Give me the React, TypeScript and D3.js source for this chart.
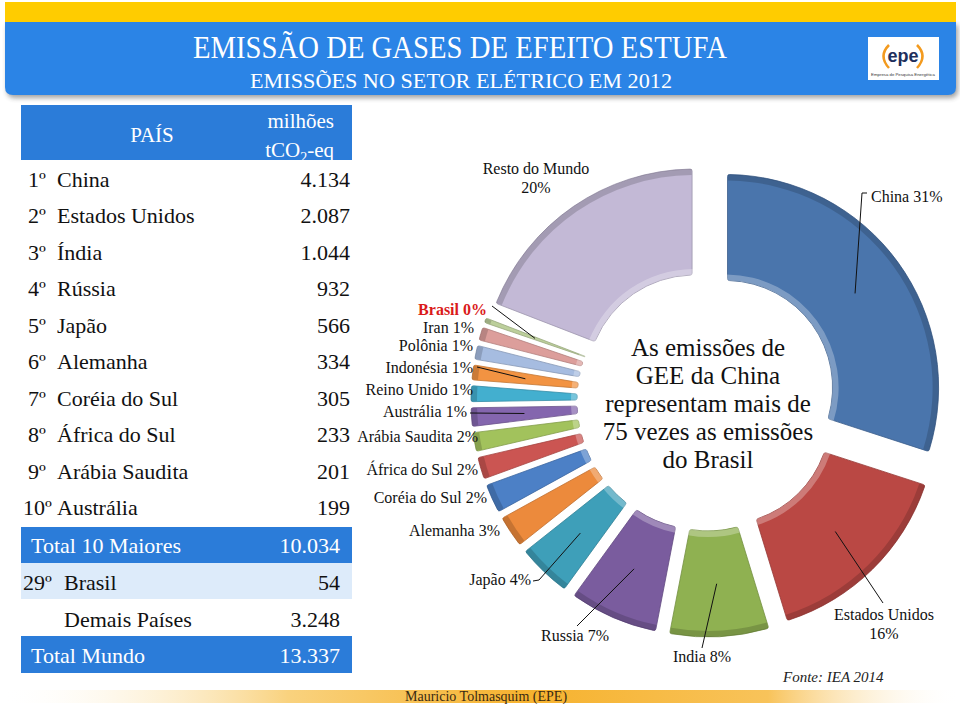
import React from "react";
import * as d3 from "d3";

// ---------- DATA ----------
const ranks = ["1º", "2º", "3º", "4º", "5º", "6º", "7º", "8º", "9º", "10º"];
const countries = ["China", "Estados Unidos", "Índia", "Rússia", "Japão", "Alemanha", "Coréia do Sul", "África do Sul", "Arábia Saudita", "Austrália"];
const emissions = [4134, 2087, 1044, 932, 566, 334, 305, 233, 201, 199];

const summaryRanks = ["", "29º", "", ""];
const summaryLabels = ["Total 10 Maiores", "Brasil", "Demais Países", "Total Mundo"];
const summaryValues = [10034, 54, 3248, 13337];

const sliceNames = ["China", "Estados Unidos", "India", "Russia", "Japão", "Alemanha", "Coréia do Sul", "África do Sul", "Arábia Saudita", "Austrália", "Reino Unido", "Indonésia", "Polônia", "Iran", "Brasil", "Resto do Mundo"];
const sliceValues = [4134, 2087, 1044, 932, 566, 334, 305, 233, 201, 199, 170, 160, 150, 140, 54, 2622];

const centerLines = ["As emissões de", "GEE da China", "representam mais de", "75 vezes as emissões", "do Brasil"];

// ---------- STYLE / LAYOUT ----------
const sliceColors = ["#4A75AC", "#BA4844", "#8FB151", "#7A5C9E", "#3E9FB9", "#EC8A3C", "#4C80C6", "#CB5552", "#A2C25C", "#8466AE", "#43AFCF", "#F29342", "#A6BCE0", "#DC9E9B", "#BCCF9B", "#C3B9D6"];

type LabelPos = { x: number; y: number; anchor: "start" | "middle" | "end"; two?: boolean; lead?: [number, number][]; bold?: boolean; color?: string };
const labelLayout: Record<string, LabelPos> = {
  "China": { x: 871, y: 202, anchor: "start", lead: [[867, 193], [862, 193]] },
  "Estados Unidos": { x: 884, y: 620, anchor: "middle", two: true, lead: [[883, 603]] },
  "India": { x: 702, y: 662, anchor: "middle", lead: [[702, 648]] },
  "Russia": { x: 575, y: 641, anchor: "middle", lead: [[577, 626]] },
  "Japão": { x: 531, y: 585, anchor: "end", lead: [[533, 581], [539, 580]] },
  "Alemanha": { x: 500, y: 536, anchor: "end" },
  "Coréia do Sul": { x: 487, y: 503, anchor: "end" },
  "África do Sul": { x: 478, y: 475, anchor: "end" },
  "Arábia Saudita": { x: 478, y: 442, anchor: "end" },
  "Austrália": { x: 467, y: 417, anchor: "end", lead: [[470, 413]] },
  "Reino Unido": { x: 473, y: 395, anchor: "end" },
  "Indonésia": { x: 473, y: 373, anchor: "end", lead: [[477, 367]] },
  "Polônia": { x: 473, y: 351, anchor: "end" },
  "Iran": { x: 474, y: 333, anchor: "end" },
  "Brasil": { x: 487, y: 315, anchor: "end", bold: true, color: "#DA1A1A", lead: [[492, 306]] },
  "Resto do Mundo": { x: 536, y: 174, anchor: "middle", two: true },
};

const SERIF = "'Liberation Serif', 'Times New Roman', serif";
const BLUE = "#2B7CD9";

const cx = 707, cy = 401, rIn = 107, rOut = 213, explode = 23;

const fmt = d3.formatLocale({ decimal: ",", thousands: ".", grouping: [3], currency: ["", ""] }).format(",d");

export default function App() {
  const total = d3.sum(sliceValues);
  const pie = d3.pie<number>().sort(null).value((d) => d).padAngle(0.016);
  const arcs = pie(sliceValues);
  const arcMain = d3.arc<d3.PieArcDatum<number>>().innerRadius(rIn).outerRadius(rOut).cornerRadius(2);
  const arcInnerRim = d3.arc<d3.PieArcDatum<number>>().innerRadius(rIn).outerRadius(rIn + 6);
  const arcOuterRim = d3.arc<d3.PieArcDatum<number>>().innerRadius(rOut - 6).outerRadius(rOut);
  const arcMid = d3.arc<d3.PieArcDatum<number>>().innerRadius(rIn).outerRadius(rOut);

  const rowY = d3.scalePoint<string>().domain(ranks).range([187, 515]);
  const sumY = [553, 590, 627, 663];
  const sumBand: ([number, number, string] | null)[] = [[527, 36, BLUE], [563, 36, "#DDEBFA"], null, [636, 37, BLUE]];

  const offset = (a: d3.PieArcDatum<number>) => {
    const m = (a.startAngle + a.endAngle) / 2;
    return [explode * Math.sin(m), -explode * Math.cos(m)];
  };

  const headerPath = "M5,22 H956 V87 Q956,95 948,95 H13 Q5,95 5,87 Z";

  return (
    <svg width={960} height={706} style={{ position: "absolute", left: 0, top: 0, background: "#fff" }} fontFamily={SERIF}>
      <defs>
        <filter id="shadow" x="-5%" y="-20%" width="110%" height="160%">
          <feGaussianBlur stdDeviation="2.5" />
        </filter>
        <linearGradient id="footer" x1="0" x2="1" y1="0" y2="0">
          <stop offset="0" stopColor="#FFFFFF" stopOpacity="0" />
          <stop offset="0.3" stopColor="#F9D27E" />
          <stop offset="0.55" stopColor="#F6B22E" />
          <stop offset="0.8" stopColor="#F8C35A" />
          <stop offset="1" stopColor="#FFFFFF" stopOpacity="0" />
        </linearGradient>
      </defs>

      {/* Header */}
      <path d={headerPath} transform="translate(2,3)" fill="#333" opacity={0.45} filter="url(#shadow)" />
      <rect x={5} y={2} width={951} height={21} fill="#FFCC00" />
      <path d={headerPath} fill="#2B84E6" />
      <text x={460} y={58} textAnchor="middle" fill="#fff" fontSize={31} textLength={534} lengthAdjust="spacingAndGlyphs">EMISSÃO DE GASES DE EFEITO ESTUFA</text>
      <text x={461} y={88} textAnchor="middle" fill="#fff" fontSize={21} textLength={422} lengthAdjust="spacingAndGlyphs">EMISSÕES NO SETOR ELÉTRICO EM 2012</text>

      {/* Logo */}
      <rect x={868} y={37} width={71} height={43} fill="#fff" />
      <path d="M889,45 Q878,56 889,68" fill="none" stroke="#F39A1E" strokeWidth={2.5} />
      <path d="M917,45 Q928,56 917,68" fill="none" stroke="#F39A1E" strokeWidth={2.5} />
      <text x={903} y={62} textAnchor="middle" fontFamily="'Liberation Sans', Arial, sans-serif" fontWeight="bold" fontSize={18} fill="#1E2F5C">epe</text>
      <text x={903} y={76} textAnchor="middle" fontFamily="'Liberation Sans', Arial, sans-serif" fontSize={4.3} fill="#333">Empresa de Pesquisa Energética</text>

      {/* Table */}
      <rect x={21} y={105} width={331} height={55} fill={BLUE} />
      <text x={152} y={142} textAnchor="middle" fill="#fff" fontSize={21}>PAÍS</text>
      <text x={334} y={128} textAnchor="end" fill="#fff" fontSize={21}>milhões</text>
      <text x={334} y={157} textAnchor="end" fill="#fff" fontSize={21}>
        tCO<tspan dy={5} fontSize={14}>2</tspan><tspan dy={-5}>-eq</tspan>
      </text>

      {ranks.map((rk, i) => (
        <g key={rk} fontSize={22} fill="#111">
          <text x={rk.length > 2 ? 23 : 28} y={rowY(rk)}>{rk}</text>
          <text x={57} y={rowY(rk)}>{countries[i]}</text>
          <text x={350} y={rowY(rk)} textAnchor="end">{fmt(emissions[i])}</text>
        </g>
      ))}

      {summaryLabels.map((lab, i) => {
        const band = sumBand[i];
        const white = band && band[2] === BLUE;
        return (
          <g key={lab} fontSize={22} fill={white ? "#fff" : "#111"}>
            {band && <rect x={21} y={band[0]} width={331} height={band[1]} fill={band[2]} />}
            {summaryRanks[i] && <text x={23} y={sumY[i]}>{summaryRanks[i]}</text>}
            <text x={summaryRanks[i] || i === 2 ? 64 : 31} y={sumY[i]}>{lab}</text>
            <text x={340} y={sumY[i]} textAnchor="end">{fmt(summaryValues[i])}</text>
          </g>
        );
      })}

      {/* Donut */}
      <g transform={`translate(${cx},${cy})`}>
        {arcs.map((a, i) => {
          const [dx, dy] = offset(a);
          const base = d3.color(sliceColors[i])!;
          return (
            <g key={sliceNames[i]} transform={`translate(${dx},${dy})`}>
              <path d={arcMain(a)!} fill={sliceColors[i]} stroke={base.darker(0.6).toString()} strokeWidth={0.8} />
              <path d={arcInnerRim(a)!} fill="#fff" opacity={0.28} />
              <path d={arcOuterRim(a)!} fill="#000" opacity={0.16} />
            </g>
          );
        })}
      </g>

      {/* Center text */}
      {centerLines.map((t, i) => (
        <text key={t} x={cx + 1} y={356 + i * 28} textAnchor="middle" fontSize={25} fill="#111">{t}</text>
      ))}

      {/* Labels and leader lines */}
      {arcs.map((a, i) => {
        const name = sliceNames[i];
        const L = labelLayout[name];
        if (!L) return null;
        const pct = `${Math.round((sliceValues[i] / total) * 100)}%`;
        const [dx, dy] = offset(a);
        const c = arcMid.centroid(a);
        const end: [number, number] = [cx + c[0] + dx, cy + c[1] + dy];
        return (
          <g key={"lab" + name}>
            {L.lead && (
              <polyline points={[...L.lead, end].map((p) => p.join(",")).join(" ")} fill="none" stroke="#111" strokeWidth={1} />
            )}
            {L.two ? (
              <text x={L.x} y={L.y} textAnchor={L.anchor} fontSize={16} fill="#111">
                <tspan x={L.x}>{name}</tspan>
                <tspan x={L.x} dy={18.5}>{pct}</tspan>
              </text>
            ) : (
              <text x={L.x} y={L.y} textAnchor={L.anchor} fontSize={16} fill={L.color || "#111"} fontWeight={L.bold ? "bold" : "normal"}>
                {name} {pct}
              </text>
            )}
          </g>
        );
      })}

      {/* Footer */}
      <rect x={0} y={690} width={960} height={13} fill="url(#footer)" />
      <text x={405} y={701} fontSize={14} fill="#3A2A12">Mauricio Tolmasquim (EPE)</text>
      <text x={783} y={682} fontSize={15} fontStyle="italic" fill="#222">Fonte: IEA 2014</text>
    </svg>
  );
}
